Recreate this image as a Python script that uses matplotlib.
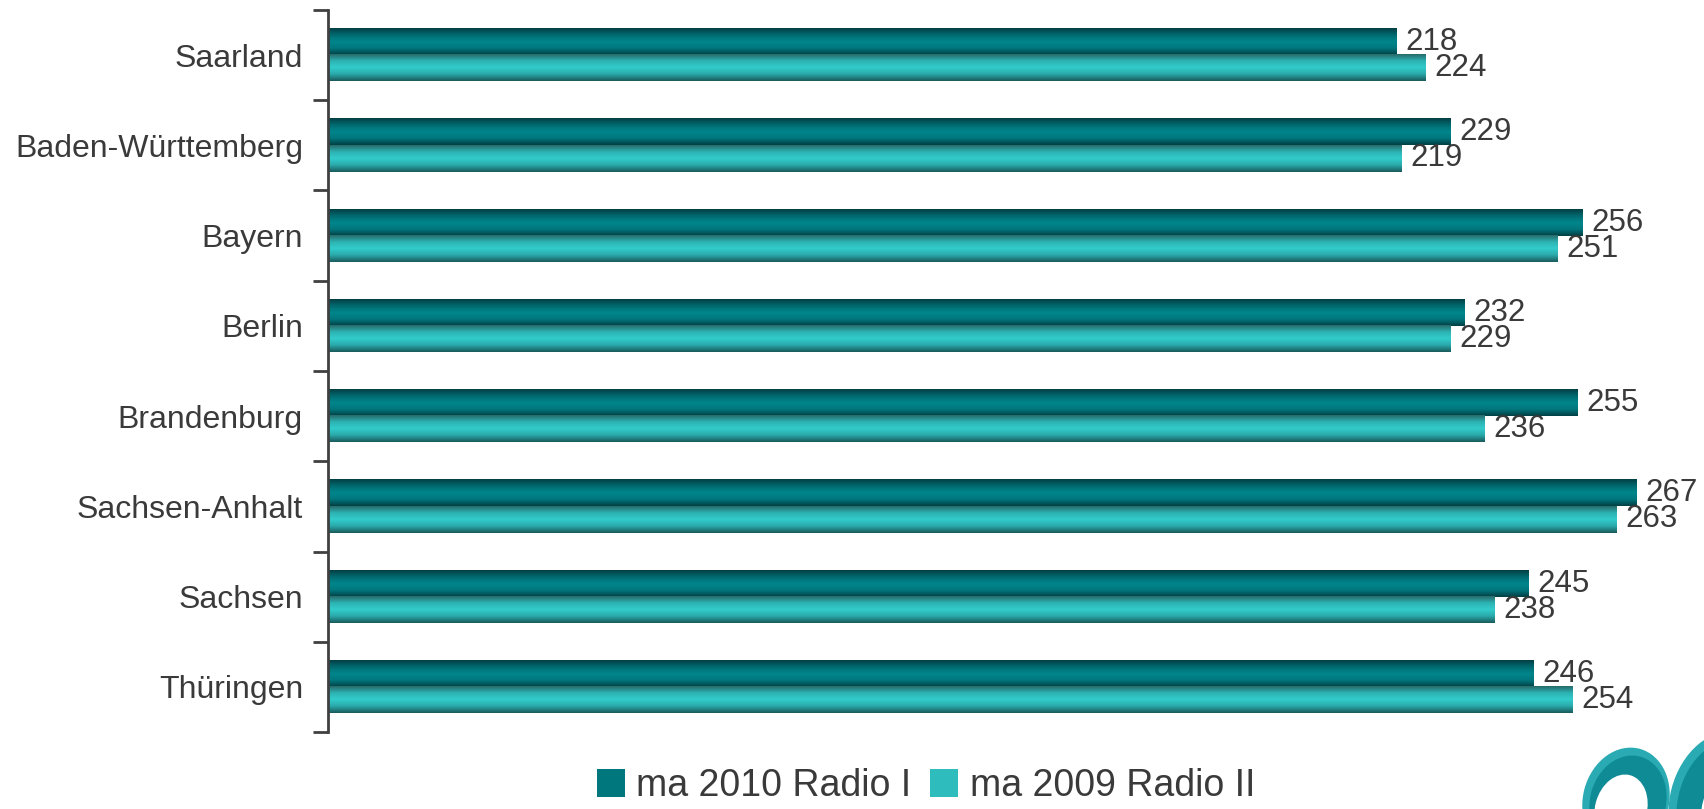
import numpy as np
import matplotlib.pyplot as plt
from matplotlib.colors import LinearSegmentedColormap
from matplotlib.patches import Patch, Ellipse

plt.rcParams['font.family'] = ['Liberation Sans', 'DejaVu Sans']

# --- data ---
states = ["Saarland", "Baden-Württemberg", "Bayern", "Berlin",
          "Brandenburg", "Sachsen-Anhalt", "Sachsen", "Thüringen"]
radio_2010 = [218, 229, 256, 232, 255, 267, 245, 246]
radio_2009 = [224, 219, 251, 229, 236, 263, 238, 254]
series_labels = ["ma 2010 Radio I", "ma 2009 Radio II"]

# cylinder-like shading for the two series (top -> bottom)
cmap_dark = LinearSegmentedColormap.from_list(
    "dark", ["#033f43", "#006a70", "#00868c", "#00777d", "#023f44"])
cmap_light = LinearSegmentedColormap.from_list(
    "light", ["#276a6b", "#2db3b3", "#33cccc", "#2aa8a9", "#1a5a5b"])

text_col = "#3a3a3a"

fig = plt.figure(figsize=(17.04, 8.09), dpi=100)
ax = fig.add_axes([328 / 1704, 1 - 732 / 809, (1700 - 328) / 1704, (732 - 10) / 809])

y = np.arange(len(states))
h = 0.29
grad = np.linspace(0, 1, 64).reshape(-1, 1)

bars_a = ax.barh(y - h / 2, radio_2010, height=h, color="none")
bars_b = ax.barh(y + h / 2, radio_2009, height=h, color="none")

for bars, cmap in [(bars_a, cmap_dark), (bars_b, cmap_light)]:
    for b in bars:
        x0, y0 = b.get_x(), b.get_y()
        w, hh = b.get_width(), b.get_height()
        # extent top/bottom flipped because y axis is inverted
        ax.imshow(grad, cmap=cmap, aspect="auto", interpolation="bicubic",
                  extent=[x0, x0 + w, y0 + hh, y0], zorder=2)
        ax.text(x0 + w + 1.8, y0 + hh / 2, f"{int(w)}", va="center", ha="left",
                fontsize=22.5, color=text_col)

ax.set_xlim(0, 280)
ax.set_ylim(len(states) - 0.5, -0.5)

# ticks at category boundaries, labels at centres
ax.set_yticks(np.arange(len(states) + 1) - 0.5)
ax.set_yticklabels([])
ax.set_yticks(y, minor=True)
ax.set_yticklabels(states, minor=True, fontsize=23, color=text_col)
ax.tick_params(axis="y", which="major", length=11, width=2, color="#404040")
ax.tick_params(axis="y", which="minor", length=0, pad=18)
ax.set_xticks([])

for s in ["top", "right", "bottom"]:
    ax.spines[s].set_visible(False)
ax.spines["left"].set_linewidth(2)
ax.spines["left"].set_color("#404040")

handles = [Patch(facecolor="#00777d"), Patch(facecolor="#2ebcbc")]
fig.legend(handles, series_labels, loc="center", bbox_to_anchor=(926 / 1704, 1 - 786 / 809),
           ncol=2, frameon=False, fontsize=27, handlelength=0.75, handleheight=0.75,
           handletextpad=0.3, columnspacing=0.5, labelcolor=text_col)

# logo fragment in the bottom right corner (display pixels, origin bottom-left)
rings = [((1626, 9), 86, 106, (1628, 7), 76, 94, (1621, 0), 52, 70),
         ((1720, 8), 100, 140, (1723, 6), 90, 128, (1730, 0), 56, 80)]
for c_out, w_out, h_out, c_mid, w_mid, h_mid, c_hole, w_hole, h_hole in rings:
    fig.add_artist(Ellipse(c_out, w_out, h_out, angle=-15, facecolor="#2aabb4",
                           edgecolor="none", transform=None))
    fig.add_artist(Ellipse(c_mid, w_mid, h_mid, angle=-15, facecolor="#0f8b96",
                           edgecolor="none", transform=None))
    fig.add_artist(Ellipse(c_hole, w_hole, h_hole, angle=-15, facecolor="white",
                           edgecolor="none", transform=None))

fig.savefig("out.png", dpi=100)
